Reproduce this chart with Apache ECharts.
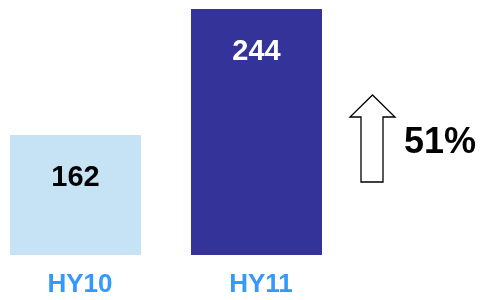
<!DOCTYPE html>
<html>
<head>
<meta charset="utf-8">
<script src="https://cdn.jsdelivr.net/npm/echarts@6/dist/echarts.min.js"></script>
<style>
  html, body { margin: 0; padding: 0; background: #fff; }
  #chart { width: 483px; height: 300px; }
</style>
</head>
<body>
<div id="chart"></div>
<script>
var categories = ['HY10', 'HY11'];
var values = [162, 244];
var barColors = ['#c6e2f5', '#333399'];
var labelColors = ['#000000', '#ffffff'];
var growthLabel = '51%';

var chart = echarts.init(document.getElementById('chart'), null, { renderer: 'canvas' });

var font = '"Liberation Sans", Arial, sans-serif';

var option = {
    animation: false,
    grid: { left: 75.5, width: 181, top: 9, bottom: 45 },
    xAxis: {
        type: 'category',
        data: categories,
        boundaryGap: false,
        axisLine: { show: false },
        axisTick: { show: false },
        axisLabel: {
            margin: 17,
            padding: [0, 0, 0, 9],
            color: '#3399ff',
            fontSize: 26,
            fontWeight: 'bold',
            fontFamily: font
        }
    },
    yAxis: {
        type: 'value',
        min: 84,
        max: 244,
        show: false,
        splitLine: { show: false }
    },
    series: [{
        type: 'bar',
        barWidth: 131,
        clip: true,
        data: values.map(function (v, i) {
            return {
                value: v,
                itemStyle: { color: barColors[i] },
                label: { color: labelColors[i] }
            };
        }),
        label: {
            show: true,
            position: ['50%', 43],
            align: 'center',
            verticalAlign: 'middle',
            fontSize: 29,
            fontWeight: 'bold',
            fontFamily: font
        }
    }],
    graphic: [
        {
            type: 'polygon',
            shape: {
                points: [[361, 182], [383, 182], [383, 117], [395, 117],
                         [372.5, 95], [350, 117], [361, 117]]
            },
            style: { fill: '#ffffff', stroke: '#000000', lineWidth: 1.3 }
        },
        {
            type: 'text',
            x: 404,
            y: 143,
            style: {
                text: growthLabel,
                fill: '#000000',
                font: 'bold 36px ' + font,
                verticalAlign: 'middle'
            }
        }
    ]
};

chart.setOption(option);
</script>
</body>
</html>
